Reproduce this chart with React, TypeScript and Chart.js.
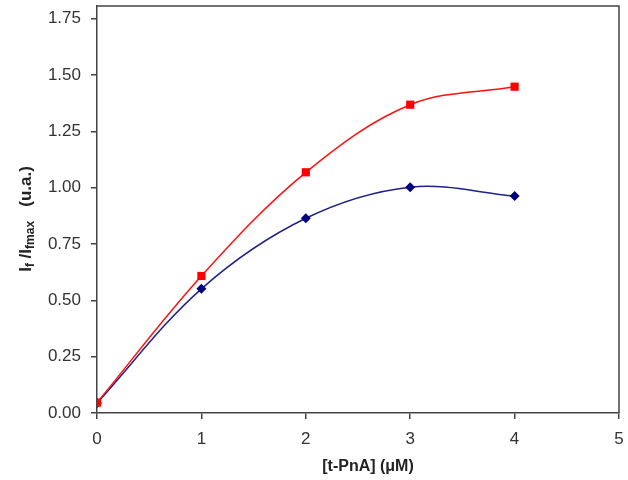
import React, { useEffect, useRef } from "react";
import { Chart, registerables } from "chart.js";

Chart.register(...registerables);

const concentrations = [0, 1, 2, 3, 4];
const seriesRed = [0.046, 0.608, 1.068, 1.368, 1.448];
const seriesBlue = [0.044, 0.551, 0.864, 1.002, 0.963];
const yTickValues = [0, 0.25, 0.5, 0.75, 1.0, 1.25, 1.5, 1.75];
const xTitle = "[t-PnA] (μM)";
const yTitleParts: [string, boolean][] = [
  ["I", false],
  ["f", true],
  [" /I", false],
  ["fmax", true],
  ["   (u.a.)", false],
];

const FONT = "'Liberation Sans', Arial, sans-serif";

const framePlugin = {
  id: "frameAndTitles",
  afterDraw(chart: any) {
    const { ctx, chartArea } = chart;
    const { left, right, top, bottom } = chartArea;
    ctx.save();
    ctx.strokeStyle = "#444";
    ctx.lineWidth = 1.5;
    ctx.beginPath();
    ctx.moveTo(left, top);
    ctx.lineTo(right, top);
    ctx.lineTo(right, bottom);
    ctx.stroke();

    // x title
    ctx.fillStyle = "#222";
    ctx.font = `bold 16px ${FONT}`;
    ctx.textAlign = "center";
    ctx.textBaseline = "middle";
    ctx.fillText(xTitle, 368, 467);

    // y title with subscripts
    const big = `bold 17px ${FONT}`;
    const small = `bold 12px ${FONT}`;
    let total = 0;
    const widths = yTitleParts.map(([t, sub]) => {
      ctx.font = sub ? small : big;
      const w = ctx.measureText(t).width;
      total += w;
      return w;
    });
    ctx.translate(25, 219);
    ctx.rotate(-Math.PI / 2);
    ctx.textAlign = "left";
    ctx.textBaseline = "alphabetic";
    let x = -total / 2;
    yTitleParts.forEach(([t, sub], i) => {
      ctx.font = sub ? small : big;
      ctx.fillText(t, x, sub ? 9 : 6);
      x += widths[i];
    });
    ctx.restore();
  },
};

export default function App() {
  const ref = useRef<HTMLCanvasElement>(null);
  useEffect(() => {
    document.body.style.margin = "0";
    const canvas = ref.current!;
    const chart = new Chart(canvas, {
      type: "line",
      data: {
        datasets: [
          {
            label: "red",
            data: concentrations.map((c, i) => ({ x: c, y: seriesRed[i] })),
            borderColor: "#ff1010",
            backgroundColor: "#ff0000",
            borderWidth: 1.5,
            pointStyle: "rect",
            pointRadius: 5.8,
            pointBorderWidth: 0,
            tension: 0.35,
          },
          {
            label: "blue",
            data: concentrations.map((c, i) => ({ x: c, y: seriesBlue[i] })),
            borderColor: "#202088",
            backgroundColor: "#000080",
            borderWidth: 1.5,
            pointStyle: "rectRot",
            pointRadius: 5,
            pointBorderWidth: 0,
            tension: 0.35,
          },
        ],
      },
      plugins: [framePlugin],
      options: {
        animation: false,
        responsive: false,
        maintainAspectRatio: false,
        layout: { padding: { left: 0, right: 9, top: 6, bottom: 0 } },
        plugins: { legend: { display: false }, tooltip: { enabled: false } },
        scales: {
          x: {
            type: "linear",
            min: 0,
            max: 5,
            ticks: {
              stepSize: 1,
              color: "#333",
              font: { family: FONT, size: 17 },
              padding: 10,
            },
            grid: {
              drawOnChartArea: false,
              drawTicks: true,
              tickLength: 6,
              color: "#444",
              lineWidth: 1.5,
            },
            border: { display: true, color: "#444", width: 1.5 },
            afterFit: (s: any) => {
              s.height = 67;
              s.paddingLeft = 0;
              s.paddingRight = 0;
            },
          },
          y: {
            type: "linear",
            min: 0,
            max: 1.806,
            afterBuildTicks: (s: any) => {
              s.ticks = yTickValues.map((v) => ({ value: v }));
            },
            ticks: {
              color: "#333",
              font: { family: FONT, size: 17 },
              padding: 10,
              callback: (v: any) => Number(v).toFixed(2),
            },
            grid: {
              drawOnChartArea: false,
              drawTicks: true,
              tickLength: 6,
              color: "#444",
              lineWidth: 1.5,
            },
            border: { display: true, color: "#444", width: 1.5 },
            afterFit: (s: any) => {
              s.width = 97;
              s.paddingTop = 0;
              s.paddingBottom = 0;
            },
          },
        },
      },
    });
    return () => chart.destroy();
  }, []);
  return (
    <div style={{ width: 628, height: 480, background: "#fff" }}>
      <canvas ref={ref} width={628} height={480} />
    </div>
  );
}
